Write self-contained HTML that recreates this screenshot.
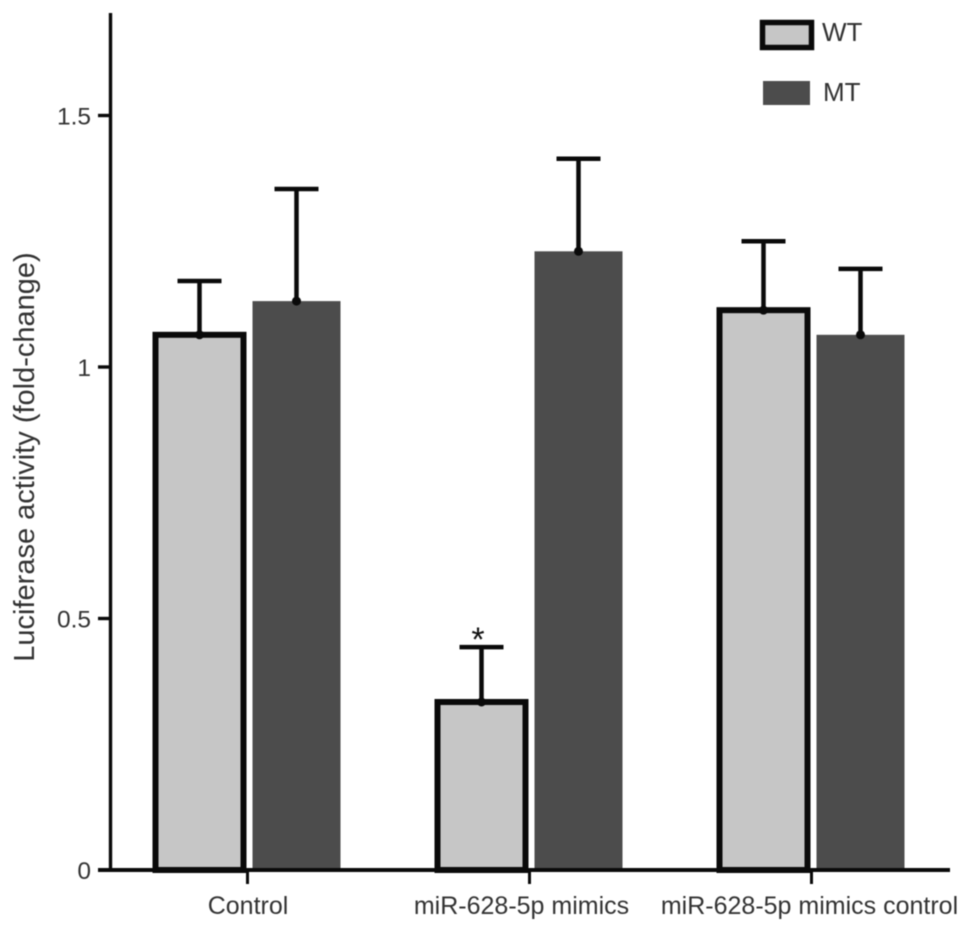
<!DOCTYPE html>
<html>
<head>
<meta charset="utf-8">
<style>
html,body{margin:0;padding:0;background:#fff;width:969px;height:932px;overflow:hidden}
svg{display:block;filter:blur(0.6px)}
text{font-family:"Liberation Sans",sans-serif;fill:#333}
</style>
</head>
<body>
<svg id="chart" width="969" height="932" viewBox="0 0 969 932" xmlns="http://www.w3.org/2000/svg"></svg>
<script>
const categories = ["Control", "miR-628-5p mimics", "miR-628-5p mimics control"];
const wtValues = [1.064, 0.334, 1.113];
const mtValues = [1.131, 1.230, 1.064];
const wtErrorTops = [1.171, 0.443, 1.250];
const mtErrorTops = [1.354, 1.414, 1.195];
const yTicks = [0, 0.5, 1, 1.5];
const yTickLabels = ["0", "0.5", "1", "1.5"];

const svg = document.getElementById('chart');
const NS = 'http://www.w3.org/2000/svg';
function y(v){ return 870 - v * 503; }
function groupX(i){ return 247.5 + i * 282; }
function add(tag, attrs, parent){
  const el = document.createElementNS(NS, tag);
  for (const k in attrs) el.setAttribute(k, attrs[k]);
  (parent || svg).appendChild(el);
  return el;
}
const BLACK = '#0a0a0a';

function drawError(cx, valueTop, errTop, name){
  const line = add('line', {x1:cx, x2:cx, y1:y(valueTop), y2:y(errTop), stroke:BLACK, 'stroke-width':4.5});
  
  
  const cap = add('line', {x1:cx-22, x2:cx+22, y1:y(errTop), y2:y(errTop), stroke:BLACK, 'stroke-width':4.5});
  
  
  const dot = add('circle', {cx:cx, cy:y(valueTop), r:4.5, fill:BLACK});
  
  
}

categories.forEach(function(cat, i){
  const c = groupX(i);
  const wtL = c - 92, wtR = c - 4, mtL = c + 5, mtR = c + 93;
  const mt = add('rect', {x:mtL, y:y(mtValues[i]), width:mtR-mtL, height:870-y(mtValues[i]), fill:'#4c4c4c'});
  
  
  const wt = add('rect', {x:wtL, y:y(wtValues[i]), width:wtR-wtL, height:870-y(wtValues[i]), fill:'#c6c6c6', stroke:BLACK, 'stroke-width':6});
  
  
  drawError((wtL+wtR)/2, wtValues[i], wtErrorTops[i], 'wt-' + i);
  drawError((mtL+mtR)/2, mtValues[i], mtErrorTops[i], 'mt-' + i);
  const tick = add('line', {x1:c, x2:c, y1:870, y2:884, stroke:BLACK, 'stroke-width':3});
  
  
  const label = add('text', {x:c + [0.5, -8, -2][i], y:914, 'text-anchor':'middle', 'font-size':25});
  label.textContent = cat;
  
  
});

const yAxis = add('line', {x1:110.5, x2:110.5, y1:13, y2:872, stroke:BLACK, 'stroke-width':3.4});


const xAxis = add('line', {x1:98, x2:950, y1:870, y2:870, stroke:BLACK, 'stroke-width':4});



yTicks.forEach(function(t, i){
  const tick = add('line', {x1:98, x2:110, y1:y(t), y2:y(t), stroke:BLACK, 'stroke-width':3.4});
  
  
  const label = add('text', {x:91, y:y(t) + 9, 'text-anchor':'end', 'font-size':24.5});
  label.textContent = yTickLabels[i];
  
  
});

const title = add('text', {x:0, y:0, transform:'translate(34 457) rotate(-90)', 'text-anchor':'middle', 'font-size':29});
title.textContent = 'Luciferase activity (fold-change)';



const star = add('text', {x:478, y:651, 'text-anchor':'middle', 'font-size':34, style:'fill:#111'});
star.textContent = '*';



const wtSwatch = add('rect', {x:762.5, y:22.5, width:49, height:25, fill:'#c6c6c6', stroke:BLACK, 'stroke-width':5.5});


const wtText = add('text', {x:822, y:41, 'font-size':26});
wtText.textContent = 'WT';


const mtSwatch = add('rect', {x:763, y:81, width:47, height:24, fill:'#4c4c4c'});


const mtText = add('text', {x:823, y:101, 'font-size':26});
mtText.textContent = 'MT';


</script>
</body>
</html>
